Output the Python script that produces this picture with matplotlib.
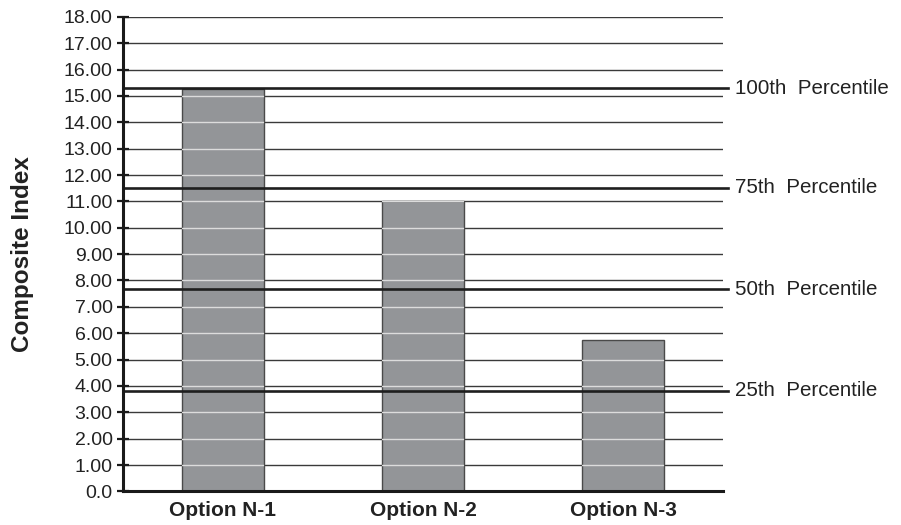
import numpy as np
import matplotlib.pyplot as plt

plt.rcParams['font.family'] = ['Liberation Sans', 'DejaVu Sans']

# Datos del índice compuesto por opción
options = ['Option N-1', 'Option N-2', 'Option N-3']
composite = [15.27, 11.0, 5.75]

# Percentiles de referencia
pct_labels = ['100th  Percentile', '75th  Percentile', '50th  Percentile', '25th  Percentile']
pct_values = [15.29, 11.52, 7.66, 3.81]

y_ticks = list(range(0, 19))
y_tick_labels = ['0.0'] + [f'{v:.2f}' for v in y_ticks[1:]]

fig = plt.figure(figsize=(9.01, 5.25), dpi=100)
ax = fig.add_axes([0.1365, 0.064, 0.666, 0.904])

x = np.arange(len(options))
bars = ax.bar(x, composite, width=0.41, color='#939598', edgecolor='#4a4a4a',
              linewidth=1.0, zorder=2)

# Líneas de rejilla: oscuras sobre el fondo, claras sobre las barras
for y in y_ticks[1:]:
    ax.axhline(y, color='#3a3a3a', lw=1.0, zorder=1)
    for b in bars:
        ln = ax.axhline(y, color='#dcdcdc', lw=1.0, zorder=3)
        ln.set_clip_path(b)

# Líneas de percentil con su etiqueta a la derecha
for lab, val in zip(pct_labels, pct_values):
    ax.axhline(val, xmax=1.008, color='#1e1e1e', lw=1.9, zorder=4, clip_on=False)
    ax.text(1.02, val, lab, transform=ax.get_yaxis_transform(), ha='left',
            va='center', fontsize=14.8, color='#222222')

ax.set_xlim(-0.5, 2.5)
ax.set_ylim(0, 18)
ax.set_yticks(y_ticks)
ax.set_yticklabels(y_tick_labels)
ax.set_xticks(x)
ax.set_xticklabels(options, fontweight='bold')

for s in ['top', 'right']:
    ax.spines[s].set_visible(False)
for s in ['left', 'bottom']:
    ax.spines[s].set_linewidth(2.2)
    ax.spines[s].set_color('#1a1a1a')
    ax.spines[s].set_zorder(5)

ax.tick_params(axis='y', direction='inout', length=9, width=1.6, labelsize=14,
               pad=3, colors='#1a1a1a', labelcolor='#222222')
ax.tick_params(axis='x', length=0, labelsize=15, pad=7, labelcolor='#222222')

ax.set_ylabel('Composite Index', fontsize=17.5, fontweight='bold', color='#222222')
ax.yaxis.set_label_coords(-0.148, 0.5)

plt.savefig('out.png', dpi=100)
